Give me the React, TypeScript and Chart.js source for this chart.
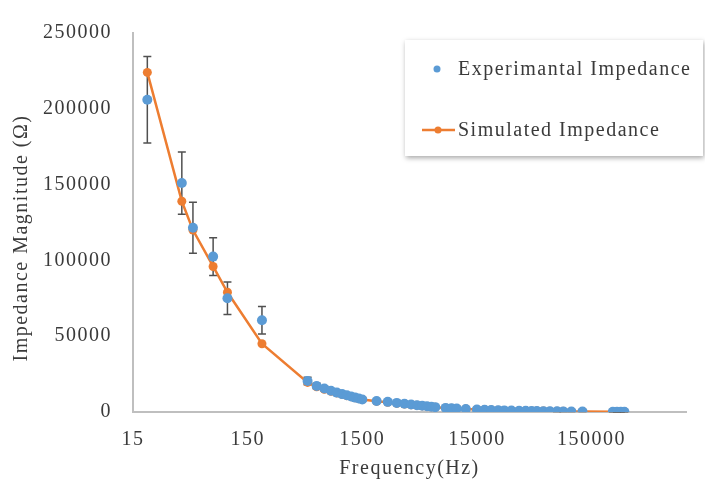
import React, { useEffect, useRef } from 'react';
import { Chart, registerables } from 'chart.js';

Chart.register(...registerables);

// ---- data ----
const frequencies = [
  20, 40, 50, 75, 100, 200,
  500, 600, 700, 800, 900, 1000, 1100, 1200, 1300, 1400, 1500,
  2000, 2500,
  3000, 3500, 4000, 4500, 5000, 5500, 6000, 6500,
  8000, 9000, 10000, 12000,
  15000, 17500, 20000, 23000, 26000, 30000, 35000, 40000, 45000, 50000, 57000, 65000, 75000, 85000, 100000,
  125000,
  230000, 250000, 270000, 290000,
];

const experimental = [
  206000, 151000, 121500, 102500, 75000, 60500,
  20500, 17200, 15500, 14000, 12800, 11800, 11000, 10200, 9500, 8900, 8300,
  7300, 6700,
  6000, 5400, 4900, 4500, 4100, 3800, 3500, 3200,
  2700, 2500, 2300, 1900,
  1600, 1450, 1300, 1150, 1050, 950, 850, 760, 690, 630, 570, 510, 450, 410, 360,
  310,
  200, 190, 180, 170,
];

const experimentalError = [
  28500, 20500, 16800, 12500, 10700, 9100,
  2500, 1800, 1500, 1300, 1200, 1100, 1000, 950, 900, 850, 800,
  700, 600,
  550, 500, 450, 420, 400, 380, 350, 330,
  300, 280, 260, 230,
  200, 190, 180, 170, 160, 150, 140, 130, 120, 110, 100, 90, 80, 70, 60,
  50,
  40, 40, 40, 40,
];

const simulated = [
  224000, 139000, 120000, 96000, 79000, 45000,
  19500, 16600, 15000, 13700, 12600, 11600, 10800, 10100, 9400, 8800, 8300,
  7100, 6400,
  5800, 5300, 4800, 4400, 4000, 3700, 3400, 3200,
  2700, 2500, 2300, 1950,
  1650, 1480, 1330, 1180, 1070, 960, 860, 770, 700, 640, 580, 520, 460, 420, 370,
  320,
  210, 200, 190, 180,
];

const xTickValues = [15, 150, 1500, 15000, 150000];
const xMin = 15;
const xMax = 1000000;
const yMin = 0;
const yMax = 250000;
const yStep = 50000;

const seriesNames = ['Experimantal Impedance', 'Simulated Impedance'];
const xTitle = 'Frequency(Hz)';
const yTitle = 'Impedance Magnitude (\u03A9)';

const BLUE = '#5B9BD5';
const ORANGE = '#ED7D31';
const TEXT = '#3a3a3a';
const FONT = "'Liberation Serif', 'Times New Roman', serif";

const spacingPlugin = {
  id: 'spacing',
  beforeDraw(chart: any) {
    (chart.ctx as any).letterSpacing = '1.5px';
  },
};

const errorBarPlugin = {
  id: 'errorBars',
  beforeDatasetsDraw(chart: any) {
    const { ctx, scales } = chart;
    const xs = scales.x;
    const ys = scales.y;
    ctx.save();
    ctx.strokeStyle = '#505050';
    ctx.lineWidth = 1.5;
    frequencies.forEach((f, i) => {
      const x = xs.getPixelForValue(f);
      const top = ys.getPixelForValue(experimental[i] + experimentalError[i]);
      const bot = ys.getPixelForValue(Math.max(0, experimental[i] - experimentalError[i]));
      ctx.beginPath();
      ctx.moveTo(x, top);
      ctx.lineTo(x, bot);
      ctx.moveTo(x - 4, top);
      ctx.lineTo(x + 4, top);
      ctx.moveTo(x - 4, bot);
      ctx.lineTo(x + 4, bot);
      ctx.stroke();
    });
    ctx.restore();
  },
};

const decorPlugin = {
  id: 'decor',
  afterDraw(chart: any) {
    const ctx = chart.ctx;
    // y axis title
    ctx.save();
    (ctx as any).letterSpacing = '1.5px';
    ctx.font = `20px ${FONT}`;
    ctx.fillStyle = TEXT;
    ctx.translate(22, 238);
    ctx.rotate(-Math.PI / 2);
    ctx.textAlign = 'center';
    ctx.textBaseline = 'middle';
    ctx.fillText(yTitle, 0, 0);
    ctx.restore();

    // legend box
    ctx.save();
    ctx.shadowColor = 'rgba(0,0,0,0.35)';
    ctx.shadowBlur = 5;
    ctx.shadowOffsetX = 1;
    ctx.shadowOffsetY = 2;
    ctx.fillStyle = '#ffffff';
    ctx.fillRect(405, 40, 298, 116);
    ctx.restore();

    ctx.save();
    (ctx as any).letterSpacing = '1.5px';
    ctx.font = `20px ${FONT}`;
    ctx.fillStyle = TEXT;
    ctx.textAlign = 'left';
    ctx.textBaseline = 'middle';
    // entry 1
    ctx.beginPath();
    ctx.fillStyle = BLUE;
    ctx.arc(437, 69, 3.5, 0, Math.PI * 2);
    ctx.fill();
    ctx.fillStyle = TEXT;
    ctx.fillText(seriesNames[0], 458, 70);
    // entry 2
    ctx.strokeStyle = ORANGE;
    ctx.lineWidth = 2.5;
    ctx.beginPath();
    ctx.moveTo(422, 130);
    ctx.lineTo(455, 130);
    ctx.stroke();
    ctx.beginPath();
    ctx.fillStyle = ORANGE;
    ctx.arc(438, 130, 3.5, 0, Math.PI * 2);
    ctx.fill();
    ctx.fillStyle = TEXT;
    ctx.fillText(seriesNames[1], 458, 131);
    ctx.restore();
  },
};

export default function App() {
  const ref = useRef<HTMLCanvasElement>(null);

  useEffect(() => {
    if (!ref.current) return;
    const expData = frequencies.map((f, i) => ({ x: f, y: experimental[i] }));
    const simData = frequencies.map((f, i) => ({ x: f, y: simulated[i] }));

    const chart = new Chart(ref.current, {
      type: 'scatter',
      data: {
        datasets: [
          {
            label: seriesNames[0],
            data: expData,
            showLine: false,
            pointRadius: 5,
            pointBackgroundColor: BLUE,
            pointBorderWidth: 0,
            borderColor: BLUE,
            backgroundColor: BLUE,
          },
          {
            label: seriesNames[1],
            data: simData,
            showLine: true,
            borderColor: ORANGE,
            borderWidth: 2.5,
            pointRadius: 4.5,
            pointBackgroundColor: ORANGE,
            pointBorderWidth: 0,
            backgroundColor: ORANGE,
            tension: 0,
          },
        ],
      },
      options: {
        responsive: false,
        animation: false,
        events: [],
        layout: { padding: { top: 22, right: 19, bottom: 0, left: 0 } },
        plugins: {
          legend: { display: false },
          tooltip: { enabled: false },
          title: { display: false },
        },
        scales: {
          x: {
            type: 'logarithmic',
            min: xMin,
            max: xMax,
            grid: { display: false, drawTicks: false },
            border: { display: true, color: '#bfbfbf', width: 2 },
            afterBuildTicks(scale: any) {
              scale.ticks = xTickValues.map((v) => ({ value: v }));
            },
            afterFit(scale: any) {
              scale.height = 75;
            },
            ticks: {
              autoSkip: false,
              maxRotation: 0,
              minRotation: 0,
              padding: 16,
              color: TEXT,
              font: { family: FONT, size: 20 },
              callback: (v: any) => String(v),
            },
            title: {
              display: true,
              text: xTitle,
              color: TEXT,
              font: { family: FONT, size: 20 },
              padding: { top: 0, bottom: 6 },
            },
          },
          y: {
            type: 'linear',
            min: yMin,
            max: yMax,
            grid: { display: false, drawTicks: false },
            border: { display: true, color: '#bfbfbf', width: 2 },
            afterFit(scale: any) {
              scale.width = 133;
            },
            ticks: {
              stepSize: yStep,
              padding: 21,
              color: TEXT,
              font: { family: FONT, size: 20 },
              callback: (v: any) => String(v),
            },
          },
        },
      },
      plugins: [spacingPlugin, errorBarPlugin, decorPlugin],
    });
    return () => chart.destroy();
  }, []);

  return (
    <div style={{ position: 'fixed', left: 0, top: 0, width: 705, height: 487, background: '#fff' }}>
      <canvas ref={ref} width={705} height={487} style={{ display: 'block', width: 705, height: 487 }} />
    </div>
  );
}
